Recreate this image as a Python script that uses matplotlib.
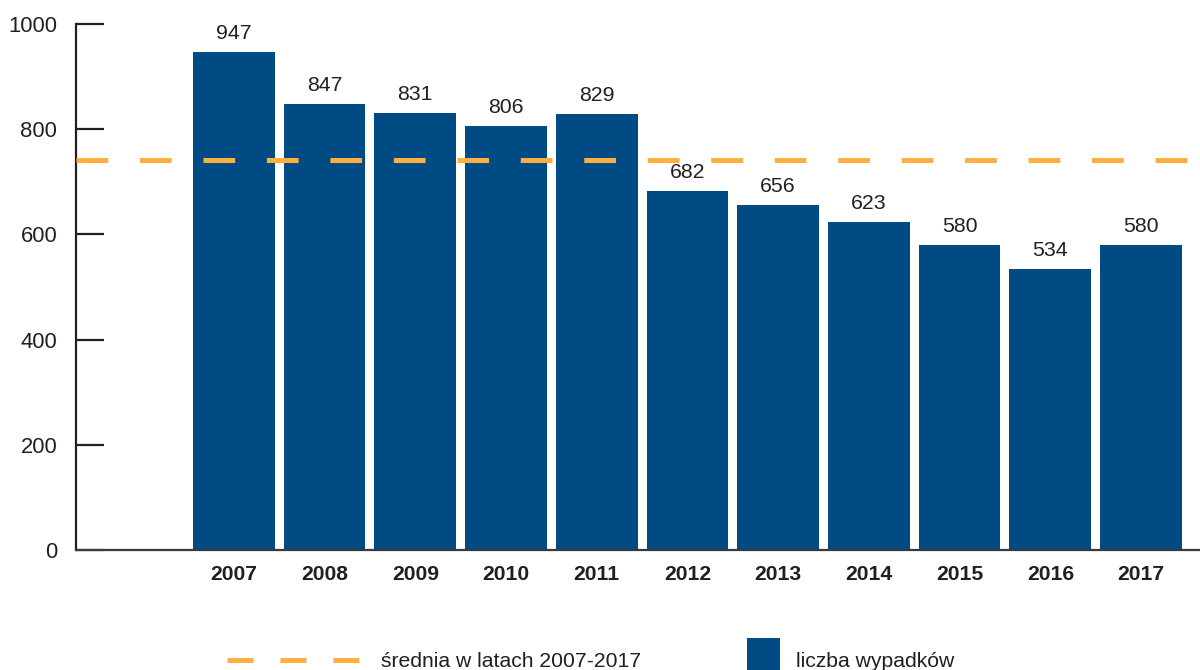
import matplotlib
matplotlib.use("Agg")
import matplotlib.pyplot as plt
from matplotlib.lines import Line2D
from matplotlib.patches import Rectangle

# Data
years = ["2007", "2008", "2009", "2010", "2011", "2012", "2013", "2014", "2015", "2016", "2017"]
accidents = [947, 847, 831, 806, 829, 682, 656, 623, 580, 534, 580]
average_value = 741
y_ticks = [0, 200, 400, 600, 800, 1000]
label_avg = "średnia w latach 2007-2017"
label_bars = "liczba wypadków"

BLUE = "#004b84"
ORANGE = "#fdb040"
DARK = "#231f20"

plt.rcParams["font.family"] = ["Liberation Sans", "DejaVu Sans"]
plt.rcParams["lines.scale_dashes"] = False

W, H = 1200, 670
fig = plt.figure(figsize=(12, 6.7), dpi=100)
ax = fig.add_axes([76 / W, 1 - 550 / H, 1 - 76 / W, (550 - 24) / H])

x = list(range(len(years)))
ax.bar(x, accidents, width=0.9, color=BLUE, zorder=2)

for xi, v in zip(x, accidents):
    ax.annotate(str(v), (xi, v), xytext=(0, 6.5), textcoords="offset points",
                ha="center", va="bottom", fontsize=15.3, color=DARK)

avg_line = ax.axhline(average_value, xmax=(1188 - 76) / (W - 76), color=ORANGE,
                      linewidth=3.6, dashes=(22.85, 22.85), zorder=3)
avg_line.set_dash_capstyle("butt")

ax.set_xlim(-1.74, 10.65)
ax.set_ylim(0, 1000)

ax.set_xticks(x)
ax.set_xticklabels(years, fontsize=15.2, fontweight="bold", color=DARK)
ax.tick_params(axis="x", length=0, pad=11)

ax.set_yticks(y_ticks)
ax.set_yticklabels([str(t) for t in y_ticks], fontsize=15.8, color=DARK)
ax.tick_params(axis="y", direction="in", length=20, width=1.6, color=DARK, pad=13.5)

for side in ("top", "right"):
    ax.spines[side].set_visible(False)
ax.spines["left"].set_color(DARK)
ax.spines["left"].set_linewidth(1.6)
ax.spines["bottom"].set_color("#3a3a3a")
ax.spines["bottom"].set_linewidth(1.6)

# Legend drawn in figure coordinates
leg_line = Line2D([227 / W, 359 / W], [1 - 660 / H, 1 - 660 / H], transform=fig.transFigure,
                  color=ORANGE, linewidth=3.6, dashes=(18.7, 19.4))
leg_line.set_dash_capstyle("butt")
fig.add_artist(leg_line)
fig.text(381 / W, 1 - 667 / H, label_avg, fontsize=15.2, color=DARK, va="baseline", ha="left")

fig.add_artist(Rectangle((747 / W, 0), 33 / W, 32 / H, transform=fig.transFigure,
                         facecolor=BLUE, edgecolor="none"))
fig.text(796 / W, 1 - 667 / H, label_bars, fontsize=15.2, color=DARK, va="baseline", ha="left")

fig.savefig("out.png", dpi=100)
